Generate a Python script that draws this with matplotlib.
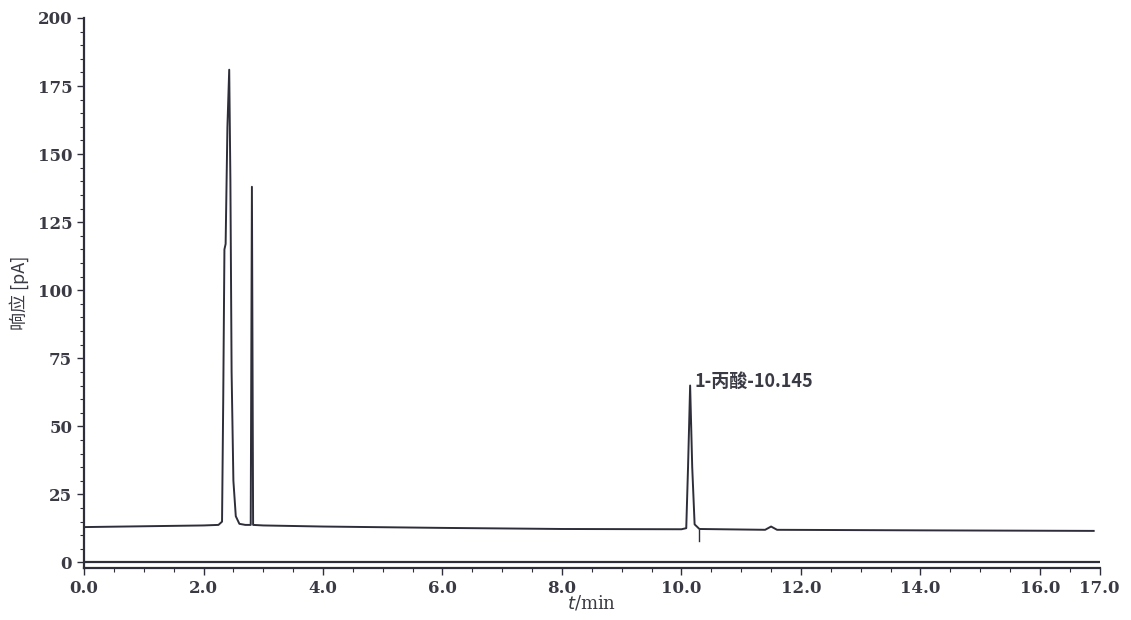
import matplotlib.pyplot as plt
import numpy as np
from matplotlib.ticker import MultipleLocator

# chromatogram trace (time in min, response in pA)
trace_t = [0.0, 1.0, 2.0, 2.25, 2.31, 2.33, 2.35, 2.37, 2.40, 2.43, 2.45, 2.47, 2.50,
           2.54, 2.60, 2.70, 2.79, 2.81, 2.83, 3.0, 4.0, 6.0, 8.0, 10.0, 10.08, 10.11,
           10.145, 10.18, 10.22, 10.30, 11.40, 11.50, 11.60, 14.0, 16.9]
trace_y = [13.0, 13.3, 13.6, 13.8, 15.0, 60, 115, 117, 160, 181, 140, 70, 30,
           17, 14.2, 13.8, 13.8, 138, 13.8, 13.6, 13.2, 12.7, 12.3, 12.2, 12.6, 35,
           65, 35, 14, 12.3, 12.0, 13.2, 12.0, 11.8, 11.6]

peak_label = '1-丙酸-10.145'
peak_t = 10.145
peak_y = 65

x_ticks = [0, 2, 4, 6, 8, 10, 12, 14, 16, 17]
x_labels = ['0.0', '2.0', '4.0', '6.0', '8.0', '10.0', '12.0', '14.0', '16.0', '17.0']
y_ticks = [0, 25, 50, 75, 100, 125, 150, 175, 200]

line_col = '#2e2e3a'
text_col = '#3a3a44'

fig = plt.figure(figsize=(11.31, 6.2), dpi=100)
ax = fig.add_axes([0.0743, 0.084, 0.898, 0.887])

ax.plot(trace_t, trace_y, color=line_col, lw=1.4)
# zero line of the detector
ax.plot([0, 17], [0, 0], color=line_col, lw=1.6)
# integration mark below the peak
ax.plot([10.3, 10.3], [12, 8], color=line_col, lw=1.0)

ax.text(peak_t + 0.08, peak_y - 2, peak_label, fontsize=13, fontweight='bold',
        color=text_col, va='bottom', ha='left',
        family=['Noto Sans CJK SC', 'DejaVu Sans'])

ax.set_xlim(0, 17)
ax.set_ylim(-2, 200)
ax.set_xticks(x_ticks)
ax.set_xticklabels(x_labels)
ax.set_yticks(y_ticks)
ax.xaxis.set_minor_locator(MultipleLocator(0.5))
ax.yaxis.set_minor_locator(MultipleLocator(5))

for s in ['top', 'right']:
    ax.spines[s].set_visible(False)
for s in ['left', 'bottom']:
    ax.spines[s].set_color(line_col)
    ax.spines[s].set_linewidth(1.6)

ax.tick_params(which='major', direction='out', length=5, width=1.0, colors=line_col,
               labelcolor=text_col, labelsize=12)
ax.tick_params(which='minor', direction='out', length=3, width=0.8, colors=line_col)
for lab in ax.get_xticklabels() + ax.get_yticklabels():
    lab.set_family('DejaVu Serif')
    lab.set_fontweight('bold')

ax.set_ylabel('响应 [pA]', fontsize=13, color=text_col,
              family=['Noto Sans CJK SC', 'DejaVu Sans'], labelpad=6)
ax.set_xlabel(r'$t$/min', fontsize=13, color=text_col, family='DejaVu Serif',
              labelpad=-2)

fig.savefig('out.png', dpi=100)
